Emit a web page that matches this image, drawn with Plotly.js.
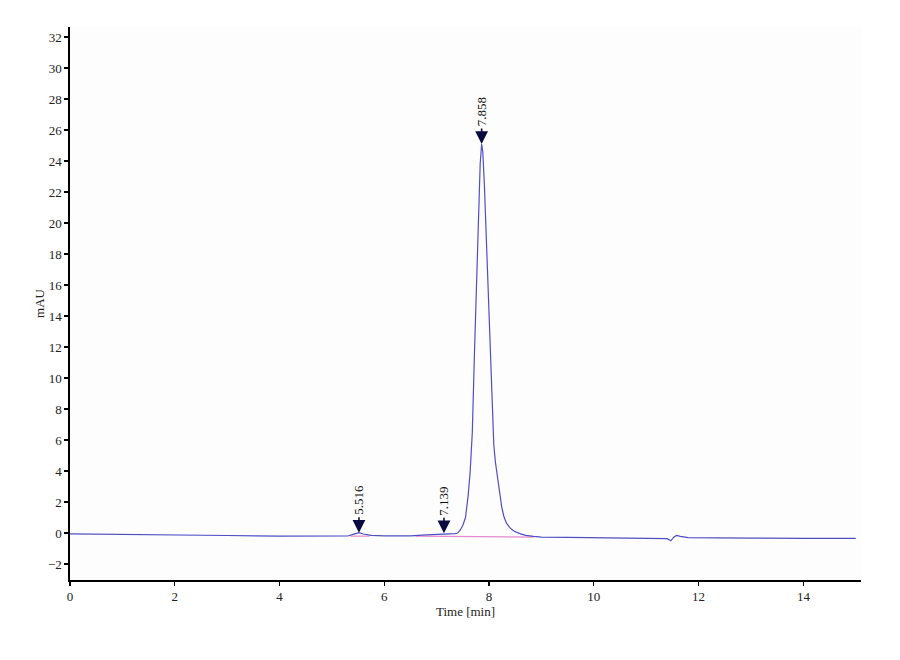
<!DOCTYPE html>
<html>
<head>
<meta charset="utf-8">
<script src="https://cdn.plot.ly/plotly-3.0.1.min.js"></script>
<style>
  body { margin: 0; background: #fff; }
  #chart { width: 900px; height: 660px; }
</style>
</head>
<body>
<div id="chart"></div>
<script>
// chromatogram (time in min, signal in mAU)
var time = [0, 1, 2, 3, 4, 4.5, 5, 5.3, 5.42, 5.516, 5.6, 5.75, 6.0, 6.5, 6.8, 7.0, 7.139, 7.25, 7.35,
            7.40, 7.45, 7.50, 7.55, 7.60, 7.64, 7.68, 7.72, 7.76, 7.80, 7.83, 7.858, 7.88, 7.91, 7.95,
            8.00, 8.03, 8.06, 8.09, 8.12, 8.16, 8.20, 8.24, 8.28, 8.33, 8.40, 8.48, 8.6, 8.7, 8.85, 9.0,
            9.5, 10, 10.5, 11, 11.3, 11.4, 11.47, 11.53, 11.58, 11.65, 11.8, 12, 13, 14, 15];
var signal = [-0.05, -0.1, -0.13, -0.16, -0.2, -0.21, -0.22, -0.19, -0.07, 0.02, -0.06, -0.15, -0.18, -0.18, -0.12, -0.07, -0.04, -0.05, -0.04,
              0.0, 0.2, 0.5, 1.0, 2.4, 4.0, 6.5, 11.5, 16.5, 21.0, 23.8, 25.1, 24.6, 22.5, 18.5,
              14.5, 10.8, 7.6, 5.7, 4.6, 3.6, 2.6, 1.7, 1.1, 0.65, 0.33, 0.12, -0.05, -0.15, -0.22, -0.26,
              -0.28, -0.3, -0.31, -0.31, -0.32, -0.36, -0.5, -0.25, -0.15, -0.22, -0.3, -0.31, -0.33, -0.34, -0.35];

// integration baseline segments
var baseTime = [5.35, 5.72, null, 6.6, 8.85];
var baseSignal = [-0.2, -0.2, null, -0.2, -0.26];

// peak labels
var peakTime = [5.516, 7.139, 7.858];
var peakSignal = [0.02, -0.02, 25.1];
var peakLabel = ["5.516", "7.139", "7.858"];

var font = "Liberation Serif, Times New Roman, serif";

var data = [
  {
    x: baseTime, y: baseSignal, mode: "lines", type: "scatter",
    line: { color: "#e58ad0", width: 1.2 }, hoverinfo: "skip"
  },
  {
    x: time, y: signal, mode: "lines", type: "scatter",
    line: { color: "#4f4fc4", width: 1.2 }
  }
];

var annotations = [];
peakTime.forEach(function (t, i) {
  // arrow with triangle head
  annotations.push({
    x: t, y: peakSignal[i], xref: "x", yref: "y",
    text: "", showarrow: true, arrowhead: 2, arrowsize: 1.6, arrowwidth: 1.6,
    arrowcolor: "#0a0a40", ax: 0, ay: -17
  });
  // rotated label above the arrow
  annotations.push({
    x: t, y: peakSignal[i], xref: "x", yref: "y",
    text: peakLabel[i], textangle: -90, showarrow: false,
    xanchor: "center", yanchor: "bottom", yshift: 17,
    font: { family: font, size: 13, color: "#111" },
    borderpad: 0
  });
});

var layout = {
  width: 900, height: 660,
  margin: { l: 70, r: 39, t: 27, b: 80 },
  paper_bgcolor: "#ffffff",
  plot_bgcolor: "#fdfdfd",
  showlegend: false,
  font: { family: font, size: 13, color: "#222" },
  xaxis: {
    range: [0, 15.1], dtick: 2, tick0: 0,
    showgrid: false, zeroline: false,
    showline: true, linecolor: "#000", linewidth: 1.6,
    ticks: "outside", ticklen: 4, tickcolor: "#000", tickwidth: 1.2,
    tickfont: { family: font, size: 13 },
    title: { text: "Time [min]", font: { family: font, size: 13 }, standoff: 0 }
  },
  yaxis: {
    range: [-3.03, 32.65], dtick: 2, tick0: 0,
    showgrid: false, zeroline: false,
    showline: true, linecolor: "#000", linewidth: 1.6,
    ticks: "outside", ticklen: 4, tickcolor: "#000", tickwidth: 1.2,
    tickfont: { family: font, size: 13 },
    title: { text: "mAU", font: { family: font, size: 13 }, standoff: 0 }
  },
  annotations: annotations
};

Plotly.newPlot("chart", data, layout, { staticPlot: true });
</script>
</body>
</html>
